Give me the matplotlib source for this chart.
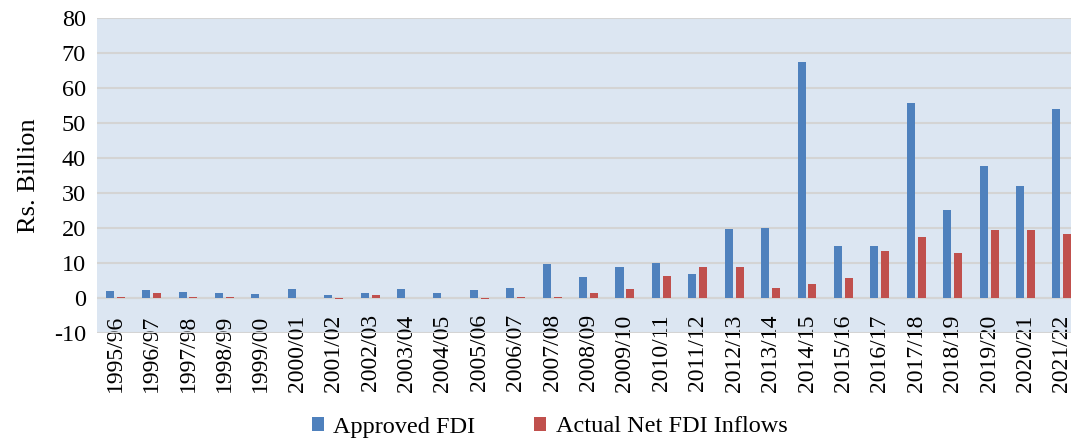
import matplotlib.pyplot as plt
import numpy as np

plt.rcParams['font.family'] = ['Liberation Serif', 'DejaVu Serif']
plt.rcParams['axes.unicode_minus'] = False

years = ['1995/96', '1996/97', '1997/98', '1998/99', '1999/00', '2000/01',
         '2001/02', '2002/03', '2003/04', '2004/05', '2005/06', '2006/07',
         '2007/08', '2008/09', '2009/10', '2010/11', '2011/12', '2012/13',
         '2013/14', '2014/15', '2015/16', '2016/17', '2017/18', '2018/19',
         '2019/20', '2020/21', '2021/22']
approved = [2.0, 2.2, 1.7, 1.3, 1.2, 2.7, 0.9, 1.5, 2.6, 1.4, 2.4, 2.9,
            9.6, 6.0, 8.9, 9.9, 6.9, 19.8, 19.9, 67.4, 15.0, 15.0, 55.7,
            25.2, 37.8, 32.1, 54.1]
actual = [0.2, 1.4, 0.4, 0.3, 0.1, 0.0, -0.4, 0.8, 0.0, 0.1, -0.4, 0.2,
          0.2, 1.5, 2.6, 6.2, 8.9, 8.9, 3.0, 4.1, 5.7, 13.3, 17.3, 12.9,
          19.3, 19.4, 18.4]

blue = '#4F81BD'
red = '#C0504D'

fig = plt.figure(figsize=(10.71, 4.42), dpi=100)
ax = fig.add_axes([97 / 1071, 1 - 333 / 442, 1 - 97 / 1071, 315 / 442])
ax.set_facecolor('#DCE6F2')

x = np.arange(len(years))
w = 0.22
ax.bar(x - 0.15, approved, w, color=blue, label='Approved FDI', zorder=3)
ax.bar(x + 0.15, actual, w, color=red, label='Actual Net FDI Inflows', zorder=3)

ax.set_ylim(-10, 80)
ax.set_yticks(range(-10, 81, 10))
ax.set_xlim(-0.5, 26.25)
ax.set_xticks(x)
# category labels sit just under the zero line, like the excel axis
ax.set_xticklabels(years, rotation=90, fontsize=17, va='top')
ax.tick_params(axis='y', labelsize=17.5, length=0, pad=8)
ax.tick_params(axis='x', length=0, pad=-13.5)
ax.grid(axis='y', color='#D4D4D4', linewidth=1.5, zorder=0)
for s in ax.spines.values():
    s.set_visible(False)
ax.axhline(0, color='#D4D4D4', linewidth=1.5, zorder=2)

ax.set_ylabel('Rs. Billion', fontsize=19, labelpad=10)

fig.legend(loc='center', bbox_to_anchor=(549.5 / 1071, 1 - 427 / 442), ncol=2,
           frameon=False, fontsize=17.5, handlelength=0.5, handleheight=0.5,
           handletextpad=0.4, columnspacing=2.4)

fig.savefig('out.png', dpi=100)
